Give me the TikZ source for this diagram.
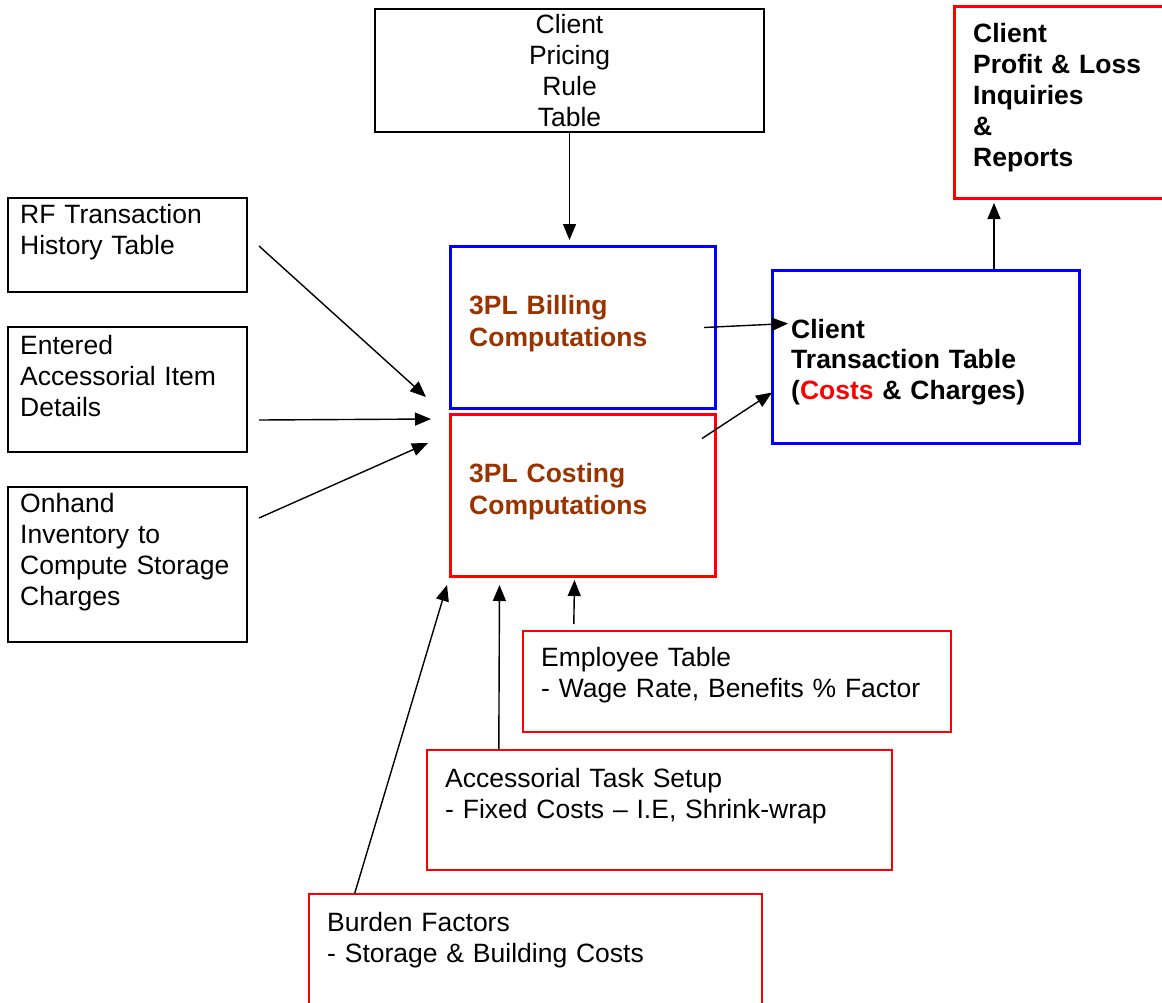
\documentclass[tikz,border=0pt]{standalone}
\usepackage{fontspec}
\setmainfont{Liberation Sans}
\usetikzlibrary{arrows.meta}
\tikzset{>={Triangle[length=16pt,width=13pt]}}
\definecolor{calcbrown}{HTML}{993300}
\tikzset{
  tbl/.style={draw,inner sep=0,anchor=north west,line width=2},
  calcblue/.style={tbl,draw=blue,line width=3},
  calcred/.style={tbl,draw=red,line width=3},
  costred/.style={tbl,draw=red,line width=1.6},
  boxtext/.style={anchor=base west,inner sep=0,align=left,text width=500,
    font=\fontsize{26.5}{31}\selectfont},
  calctext/.style={boxtext,text=calcbrown,font=\fontsize{26.5}{32}\selectfont\bfseries},
  feed/.style={->,line width=1.4},
}

\begin{document}
\begin{tikzpicture}[x=1pt,y=-1pt]
  \useasboundingbox (0,0) rectangle (1162,1002);
  \clip (0,0) rectangle (1162,1002);
  % tables feeding the computations
  \node[tbl,minimum width=389,minimum height=123,align=center,
        font=\fontsize{26.5}{31}\selectfont] (pricing) at (374,8)
    {Client\\Pricing\\Rule\\Table};
  \node[tbl,minimum width=239,minimum height=94]  (rf)      at (7,197) {};
  \node[tbl,minimum width=239,minimum height=125] (entered) at (7,326) {};
  \node[tbl,minimum width=239,minimum height=155] (onhand)  at (7,486) {};
  \node[boxtext] at (20,223) {RF Transaction\\History Table};
  \node[boxtext] at (20,354) {Entered\\Accessorial Item\\Details};
  \node[boxtext] at (20,512) {Onhand\\Inventory to\\Compute Storage\\Charges};
  % computations
  \node[calcblue,minimum width=265,minimum height=162] (billing) at (449,245) {};
  \node[calcred,minimum width=265,minimum height=162]  (costing) at (449,413) {};
  \node[calctext] at (469,314) {3PL Billing\\Computations};
  \node[calctext] at (469,482) {3PL Costing\\Computations};
  % results
  \node[calcblue,minimum width=307,minimum height=173] (trans)  at (771,269) {};
  \node[calcred,minimum width=220,minimum height=192]  (profit) at (953,5) {};
  \node[boxtext,font=\fontsize{26.5}{30.5}\selectfont\bfseries] at (791,338)
    {Client\\Transaction Table\\(\textcolor{red}{Costs} \& Charges)};
  \node[boxtext,font=\fontsize{26.5}{31}\selectfont\bfseries] at (973,42)
    {Client\\Profit \& Loss\\Inquiries\\\&\\Reports};
  % cost factors
  \node[costred,minimum width=428,minimum height=101] (employee)    at (522,630) {};
  \node[costred,minimum width=465,minimum height=120] (accessorial) at (426,749) {};
  \node[costred,minimum width=453,minimum height=130] (burden)      at (308,893) {};
  \node[boxtext] at (541,666) {Employee Table\\- Wage Rate, Benefits \% Factor};
  \node[boxtext] at (445,787) {Accessorial Task Setup\\- Fixed Costs -- I.E, Shrink-wrap};
  \node[boxtext] at (327,931) {Burden Factors\\- Storage \& Building Costs};

  \draw[feed,shorten >=5] (pricing.south) -- (pricing.south |- billing.north);
  \draw[feed] ([shift={(11,1)}]rf.east) -- ([shift={(-23,-13)}]billing.south west);
  \draw[feed] ([shift={(11,30.5)}]entered.east) -- ([shift={(-18,6)}]costing.north west);
  \draw[feed] ([shift={(11,-46.5)}]onhand.east) -- ([shift={(-21,30)}]costing.north west);
  \draw[feed] ([shift={(-13,0)}]billing.east) -- ([shift={(17,-33.5)}]trans.west);
  \draw[feed] ([shift={(-15,-57)}]costing.east) -- ([shift={(1,35.5)}]trans.west);
  \draw[feed,shorten >=3] ([xshift=68]trans.north) -- ([xshift=68]trans.north |- profit.south);
  \draw[feed] ([shift={(-163,-6)}]employee.north) -- ([shift={(-8.5,2)}]costing.south);
  \draw[feed] ([xshift=-160.5]accessorial.north) -- ([shift={(-83.5,7)}]costing.south);
  \draw[feed] ([xshift=-180.5]burden.north) -- ([shift={(-2,7)}]costing.south west);
\end{tikzpicture}
\end{document}
